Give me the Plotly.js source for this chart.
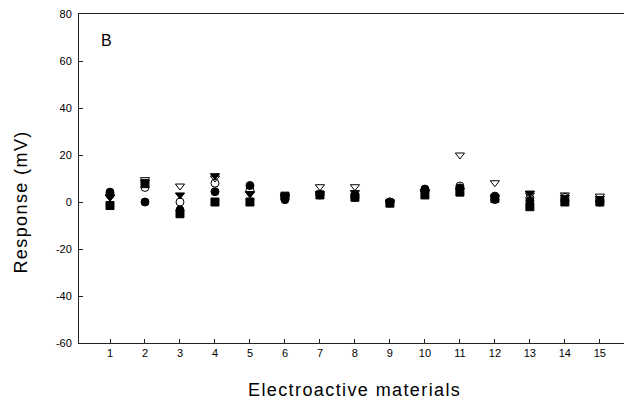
<!DOCTYPE html>
<html>
<head>
<meta charset="utf-8">
<script src="https://cdn.plot.ly/plotly-3.0.1.min.js"></script>
<style>
body{margin:0;padding:0;background:#fff;}
.annotation-text{letter-spacing:1.4px;}
</style>
</head>
<body>
<div id="chart" style="width:625px;height:408px;"></div>
<script>
const materials = [1,2,3,4,5,6,7,8,9,10,11,12,13,14,15];
const filledCircle   = [4.2, 0.0, -3.4, 4.4, 7.0, 1.0, 3.3, 2.0, 0.0, 5.5, 6.0, 2.5, 0.5, 0.5, 0.0];
const openCircle     = [3.2, 6.2,  0.0, 8.0, 5.0, 2.0, 3.0, 3.0, 0.0, 5.0, 6.8, 1.0, 1.7, 2.0, 0.5];
const filledTriangle = [2.2, 8.5,  3.0, 11.2, 3.5, 2.5, 3.5, 4.0, -0.5, 4.0, 5.0, 2.0, 3.8, 2.0, 1.5];
const openTriangle   = [2.0, 9.5,  6.8, 10.2, 3.5, 2.0, 6.5, 6.5, 0.0, 4.5, 20.0, 8.2, 3.0, 3.0, 2.5];
const filledSquare   = [-1.5, 7.8, -5.0, 0.0, 0.0, 2.5, 3.0, 2.0, -0.5, 3.0, 4.2, 1.5, -2.0, 0.0, 0.0];
const yTicks = [-60,-40,-20,0,20,40,60,80];
const yTickText = ['-60','-40','-20','0','20','40','60','80'];

function series(y, symbol){
  return {x: materials, y: y, type:'scatter', mode:'markers',
    marker:{symbol: symbol, size: 8, color:'#000', line:{color:'#000', width:1}},
    showlegend:false, cliponaxis:false};
}
const data = [
  series(openTriangle,'triangle-down-open'),
  series(filledTriangle,'triangle-down'),
  series(openCircle,'circle-open'),
  series(filledCircle,'circle'),
  series(filledSquare,'square')
];
const font = {family:'Liberation Sans, Arial, sans-serif', color:'#000'};
const layout = {
  width:625, height:408,
  margin:{l:79, r:1, t:14, b:65},
  paper_bgcolor:'#fff', plot_bgcolor:'#fff',
  font: Object.assign({size:11}, font),
  xaxis:{range:[0.114,15.69], tickvals:materials, ticktext:materials.map(String),
    showgrid:false, zeroline:false, showline:true, mirror:true, linecolor:'#222', linewidth:1,
    ticks:'inside', ticklen:4, tickcolor:'#222', tickfont:{size:11}},
  yaxis:{range:[-60,80], tickvals:yTicks, ticktext:yTickText, showgrid:false, zeroline:false,
    showline:true, linecolor:'#222', linewidth:1,
    ticks:'inside', ticklen:4, tickcolor:'#222', tickfont:{size:11}, ticklabelstandoff:4},
  annotations:[
    {text:'Electroactive materials', xref:'paper', yref:'paper', x:0.506, y:-0.143,
      xanchor:'center', yanchor:'middle', showarrow:false, font:Object.assign({size:18}, font)},
    {text:'Response (mV)', xref:'paper', yref:'paper', x:-0.107, y:0.429, textangle:-90,
      xanchor:'center', yanchor:'middle', showarrow:false, font:Object.assign({size:18}, font)},
    {text:'B', xref:'paper', yref:'paper', x:0.051, y:0.918,
      xanchor:'center', yanchor:'middle', showarrow:false, font:Object.assign({size:16}, font)}
  ]
};
Plotly.newPlot('chart', data, layout, {displayModeBar:false, staticPlot:true});
</script>
</body>
</html>
